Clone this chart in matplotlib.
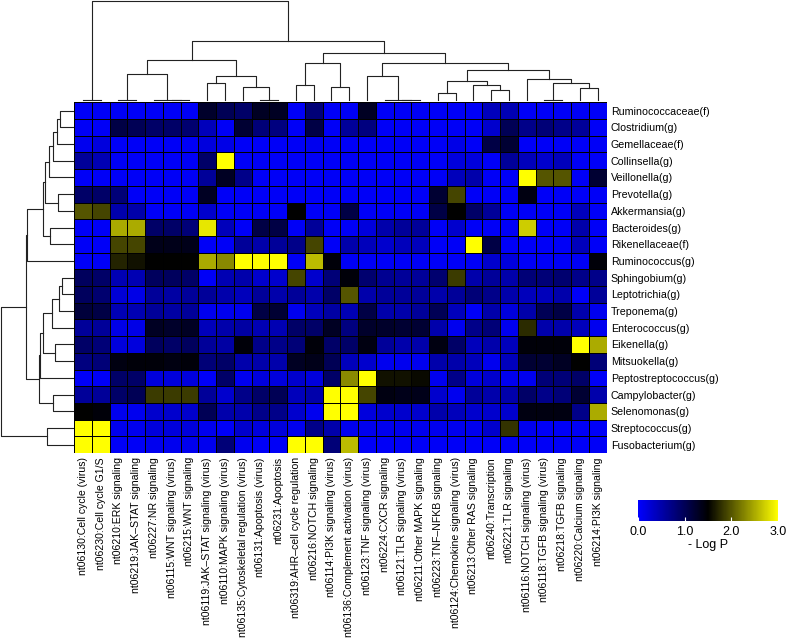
import matplotlib
matplotlib.use("Agg")
import matplotlib.pyplot as plt
import numpy as np
from matplotlib.colors import LinearSegmentedColormap

plt.rcParams['font.family'] = ['Liberation Sans', 'DejaVu Sans']

# taxa (rows, top to bottom)
taxa = ["Ruminococcaceae(f)", "Clostridium(g)", "Gemellaceae(f)", "Collinsella(g)",
        "Veillonella(g)", "Prevotella(g)", "Akkermansia(g)", "Bacteroides(g)",
        "Rikenellaceae(f)", "Ruminococcus(g)", "Sphingobium(g)", "Leptotrichia(g)",
        "Treponema(g)", "Enterococcus(g)", "Eikenella(g)", "Mitsuokella(g)",
        "Peptostreptococcus(g)", "Campylobacter(g)", "Selenomonas(g)",
        "Streptococcus(g)", "Fusobacterium(g)"]

# pathways (columns, left to right)
pathways = ["nt06130:Cell cycle (virus)", "nt06230:Cell cycle G1/S",
            "nt06210:ERK signaling", "nt06219:JAK–STAT signaling",
            "nt06227:NR signaling", "nt06115:WNT signaling (virus)",
            "nt06215:WNT signaling", "nt06119:JAK–STAT signaling (virus)",
            "nt06110:MAPK signaling (virus)", "nt06135:Cytoskeletal regulation (virus)",
            "nt06131:Apoptosis (virus)", "nt06231:Apoptosis",
            "nt06319:AHR–cell cycle regulation", "nt06216:NOTCH signaling",
            "nt06114:PI3K signaling (virus)", "nt06136:Complement activation (virus)",
            "nt06123:TNF signaling (virus)", "nt06224:CXCR signaling",
            "nt06121:TLR signaling (virus)", "nt06211:Other MAPK signaling",
            "nt06223:TNF–NFKB signaling", "nt06124:Chemokine signaling (virus)",
            "nt06213:Other RAS signaling", "nt06240:Transcription",
            "nt06221:TLR signaling", "nt06116:NOTCH signaling (virus)",
            "nt06118:TGFB signaling (virus)", "nt06218:TGFB signaling",
            "nt06220:Calcium signaling", "nt06214:PI3K signaling"]

# -log P per taxon, one list per row (30 pathways each)
ruminococcaceae = [0.05, 0.05, 0.05, 0.05, 0.05, 0.05, 0.05, 1.25, 1.0, 0.9, 1.3, 1.3, 0.05, 0.8, 0.05,
                   0.05, 1.3, 0.05, 0.05, 0.05, 0.05, 0.05, 0.05, 0.4, 0.45, 0.05, 0.05, 0.05, 0.05, 0.05]
clostridium = [0.05, 0.05, 1.1, 1.0, 0.9, 0.9, 0.85, 0.4, 0.05, 1.2, 0.8, 0.75, 0.05, 1.1, 0.05,
               0.6, 0.75, 0.05, 0.05, 0.05, 0.05, 0.05, 0.05, 0.3, 1.0, 0.7, 0.8, 0.7, 0.6, 0.05]
gemellaceae = [0.1, 0.2, 0.05, 0.05, 0.05, 0.05, 0.05, 0.2, 0.15, 0.05, 0.05, 0.05, 0.05, 0.1, 0.05,
               0.05, 0.05, 0.05, 0.05, 0.05, 0.05, 0.15, 0.05, 1.1, 1.2, 0.05, 0.05, 0.05, 0.05, 0.05]
collinsella = [0.6, 0.45, 0.05, 0.05, 0.05, 0.05, 0.05, 0.9, 3.0, 0.05, 0.05, 0.05, 0.05, 0.05, 0.05,
               0.05, 0.05, 0.05, 0.05, 0.05, 0.05, 0.2, 0.2, 0.05, 0.6, 0.4, 0.3, 0.4, 0.05, 0.05]
veillonella = [0.05, 0.05, 0.05, 0.05, 0.05, 0.05, 0.05, 0.6, 1.3, 0.7, 0.05, 0.05, 0.05, 0.05, 0.05,
               0.05, 0.05, 0.05, 0.05, 0.05, 0.05, 0.4, 0.5, 0.05, 0.05, 3.0, 2.0, 2.0, 0.05, 1.2]
prevotella = [0.9, 0.9, 0.8, 0.05, 0.05, 0.05, 0.05, 1.3, 0.05, 0.05, 0.05, 0.05, 0.05, 0.05, 0.05,
              0.05, 0.05, 0.05, 0.05, 0.05, 1.2, 1.9, 0.05, 0.05, 0.05, 1.4, 0.05, 0.05, 0.05, 0.05]
akkermansia = [2.0, 1.9, 0.5, 0.5, 0.05, 0.05, 0.05, 0.3, 0.05, 0.05, 0.05, 0.05, 1.5, 0.05, 0.05,
               1.1, 0.05, 0.05, 0.05, 0.05, 1.1, 1.5, 0.9, 0.6, 0.05, 0.05, 0.05, 0.05, 0.4, 0.05]
bacteroides = [0.05, 0.05, 2.5, 2.5, 0.9, 0.9, 0.8, 2.85, 0.4, 0.05, 1.1, 1.1, 0.05, 0.6, 0.05,
               0.05, 0.2, 0.5, 0.6, 0.6, 0.05, 0.3, 0.05, 0.05, 0.05, 2.7, 0.05, 0.05, 0.5, 0.05]
rikenellaceae = [0.05, 0.05, 1.9, 1.9, 1.35, 1.35, 1.35, 0.05, 0.05, 0.6, 0.5, 0.6, 0.7, 1.9, 0.05,
                 0.5, 0.4, 0.3, 0.4, 0.4, 0.05, 0.05, 3.0, 1.1, 0.05, 0.05, 0.05, 0.05, 0.4, 0.05]
ruminococcus = [0.05, 0.05, 1.7, 1.6, 1.5, 1.5, 1.5, 2.5, 2.3, 3.0, 3.0, 3.0, 0.05, 2.6, 1.45,
                0.05, 0.05, 0.05, 0.05, 0.05, 0.05, 0.05, 0.05, 0.3, 0.2, 0.05, 0.05, 0.05, 0.05, 1.45]
sphingobium = [0.95, 0.9, 0.45, 0.45, 0.95, 0.95, 0.9, 0.05, 0.45, 0.5, 0.3, 0.3, 1.9, 0.3, 0.8,
               1.45, 0.85, 0.65, 0.6, 0.6, 0.85, 1.85, 0.5, 0.6, 0.5, 0.8, 0.8, 0.85, 0.7, 0.7]
leptotrichia = [0.95, 0.85, 0.25, 0.15, 0.6, 0.55, 0.6, 0.6, 0.5, 0.4, 0.6, 0.5, 0.6, 0.5, 0.9,
                2.0, 0.5, 0.6, 0.6, 0.6, 0.5, 0.6, 0.8, 0.7, 0.5, 0.4, 0.4, 0.5, 0.05, 0.6]
treponema = [1.15, 1.1, 0.45, 0.45, 0.6, 0.55, 0.6, 0.1, 0.1, 0.1, 1.1, 1.2, 0.1, 0.4, 0.55,
             0.45, 1.1, 0.5, 0.5, 0.6, 1.0, 0.4, 0.05, 0.5, 0.2, 0.5, 1.0, 1.1, 0.5, 0.1]
enterococcus = [0.6, 0.6, 0.15, 0.15, 1.3, 1.25, 1.3, 0.4, 0.5, 0.55, 0.45, 0.45, 0.9, 0.9, 1.3,
                0.75, 1.25, 1.25, 1.2, 1.2, 0.5, 0.1, 0.7, 0.8, 0.1, 1.75, 0.5, 0.5, 0.4, 0.1]
eikenella = [0.9, 0.8, 0.2, 0.2, 0.95, 0.9, 0.95, 0.6, 0.55, 1.45, 0.7, 0.7, 0.8, 1.45, 0.9,
             0.9, 1.4, 0.6, 0.5, 0.5, 1.4, 0.9, 0.4, 0.5, 0.4, 1.45, 1.45, 1.45, 3.0, 2.5]
mitsuokella = [0.75, 0.8, 1.4, 1.45, 1.45, 1.4, 1.45, 0.8, 0.9, 0.5, 0.5, 0.5, 1.3, 1.35, 1.0,
               0.4, 0.3, 0.1, 0.1, 0.1, 0.5, 0.5, 0.4, 0.1, 0.4, 1.2, 1.2, 1.3, 1.5, 0.8]
peptostreptococcus = [0.05, 0.05, 0.9, 0.9, 0.2, 0.2, 0.2, 0.05, 0.9, 0.1, 0.2, 0.2, 0.3, 0.2, 0.9,
                      2.3, 3.0, 1.6, 1.6, 1.55, 0.1, 0.7, 0.2, 0.3, 0.1, 0.1, 0.8, 0.8, 0.9, 0.05]
campylobacter = [0.6, 0.6, 0.9, 1.0, 1.85, 1.85, 1.85, 0.6, 0.3, 0.7, 0.9, 1.0, 0.4, 0.5, 3.0,
                 3.0, 1.9, 1.4, 1.35, 1.35, 0.3, 0.1, 0.6, 0.5, 0.5, 0.9, 0.7, 0.8, 1.2, 0.5]
selenomonas = [1.5, 1.45, 0.1, 0.1, 0.3, 0.3, 0.3, 1.0, 0.5, 0.5, 0.7, 0.7, 0.3, 0.1, 3.0,
               3.0, 0.2, 0.3, 0.3, 0.3, 0.5, 0.4, 0.3, 0.3, 0.3, 1.4, 1.4, 1.4, 0.7, 2.5]
streptococcus = [3.0, 3.0, 0.1, 0.1, 0.2, 0.2, 0.2, 0.1, 0.05, 0.3, 0.2, 0.2, 0.1, 0.7, 0.5,
                 0.1, 0.1, 0.1, 0.1, 0.1, 0.1, 0.1, 0.1, 0.3, 1.8, 0.1, 0.05, 0.05, 0.05, 0.05]
fusobacterium = [3.0, 3.0, 0.05, 0.05, 0.1, 0.1, 0.1, 0.1, 0.8, 0.1, 0.05, 0.05, 3.0, 3.0, 0.8,
                 2.6, 0.05, 0.05, 0.05, 0.05, 0.05, 0.05, 0.05, 0.05, 0.05, 0.05, 0.05, 0.05, 0.05, 0.05]

values = np.array([ruminococcaceae, clostridium, gemellaceae, collinsella, veillonella,
                   prevotella, akkermansia, bacteroides, rikenellaceae, ruminococcus,
                   sphingobium, leptotrichia, treponema, enterococcus, eikenella,
                   mitsuokella, peptostreptococcus, campylobacter, selenomonas,
                   streptococcus, fusobacterium])

# dendrogram merges in display order (scipy style: leaf ids first, new ids after)
# (left, right, relative height)
col_merges = [(5, 6, 0.0), (4, 30, 0.0), (2, 3, 0.0), (32, 31, 0.262), (0, 1, 0.0),
              (7, 8, 0.165), (10, 11, 0.0), (9, 36, 0.128), (35, 37, 0.235),
              (33, 38, 0.403), (12, 13, 0.152), (14, 15, 0.128), (40, 41, 0.37),
              (18, 19, 0.0), (17, 43, 0.0), (16, 44, 0.235), (20, 21, 0.07),
              (23, 24, 0.10), (22, 47, 0.152), (46, 48, 0.188), (26, 27, 0.0),
              (28, 29, 0.121), (50, 51, 0.165), (25, 52, 0.205), (49, 53, 0.302),
              (45, 54, 0.37), (42, 55, 0.473), (39, 56, 0.59), (34, 57, 1.0)]

row_merges = [(0, 1, 0.177), (21, 2, 0.214), (22, 3, 0.279), (23, 4, 0.33),
              (5, 6, 0.2), (24, 25, 0.386), (7, 8, 0.316), (26, 27, 0.41),
              (28, 9, 0.642), (10, 11, 0.153), (30, 12, 0.186), (31, 13, 0.29),
              (14, 15, 0.24), (32, 33, 0.42), (34, 16, 0.45), (17, 18, 0.27),
              (35, 36, 0.47), (29, 37, 0.65), (19, 20, 0.36), (38, 39, 1.0)]


def draw_dendrogram(ax, merges, n, orient):
    pos = {i: i + 0.5 for i in range(n)}
    hgt = {i: 0.0 for i in range(n)}
    for k, (a, b, h) in enumerate(merges):
        xs = [pos[a], pos[a], pos[b], pos[b]]
        ys = [hgt[a], h, h, hgt[b]]
        if orient == 'top':
            ax.plot(xs, ys, color='#222222', lw=0.8, clip_on=False)
        else:
            ax.plot(ys, xs, color='#222222', lw=0.8, clip_on=False)
        pos[n + k] = (pos[a] + pos[b]) / 2
        hgt[n + k] = h
    ax.axis('off')


W, H = 787, 642


def box(x0, y0, x1, y1):
    return [x0 / W, 1 - y1 / H, (x1 - x0) / W, (y1 - y0) / H]


cmap = LinearSegmentedColormap.from_list('bky', ['#0000FF', '#000000', '#FFFF00'])

fig = plt.figure(figsize=(W / 100, H / 100), dpi=100)

hx0, hx1, hy0, hy1 = 74, 606.5, 102.3, 453
ax = fig.add_axes(box(hx0, hy0, hx1, hy1))
nrow, ncol = values.shape
mesh = ax.pcolormesh(values, cmap=cmap, vmin=0, vmax=3, edgecolors='black', linewidth=0.6)
ax.set_xlim(0, ncol)
ax.set_ylim(nrow, 0)
ax.set_xticks(np.arange(ncol) + 0.5)
ax.set_xticklabels(pathways, rotation=90, fontsize=7.6)
ax.set_yticks(np.arange(nrow) + 0.5)
ax.set_yticklabels(taxa, fontsize=7.7)
ax.yaxis.tick_right()
ax.tick_params(axis='y', length=0, pad=3)
ax.tick_params(axis='x', length=0, pad=3)
for s in ax.spines.values():
    s.set_visible(False)

axc = fig.add_axes(box(hx0, 1, hx1, 99.5))
draw_dendrogram(axc, col_merges, ncol, 'top')
axc.set_xlim(0, ncol)
axc.set_ylim(0, 1.0)

axr = fig.add_axes(box(1, hy0, 72.7, hy1))
draw_dendrogram(axr, row_merges, nrow, 'left')
axr.set_ylim(nrow, 0)
axr.set_xlim(1.0, 0)

cax = fig.add_axes(box(638, 500, 778, 521))
cb = fig.colorbar(mesh, cax=cax, orientation='horizontal', ticks=[0, 1, 2, 3], format='%.1f')
cb.outline.set_visible(False)
cax.tick_params(labelsize=9, length=3, direction='in', color='white', width=0.8, pad=3.5)
cb.set_label('- Log P', fontsize=9, labelpad=1)

fig.savefig('out.png', dpi=100)
